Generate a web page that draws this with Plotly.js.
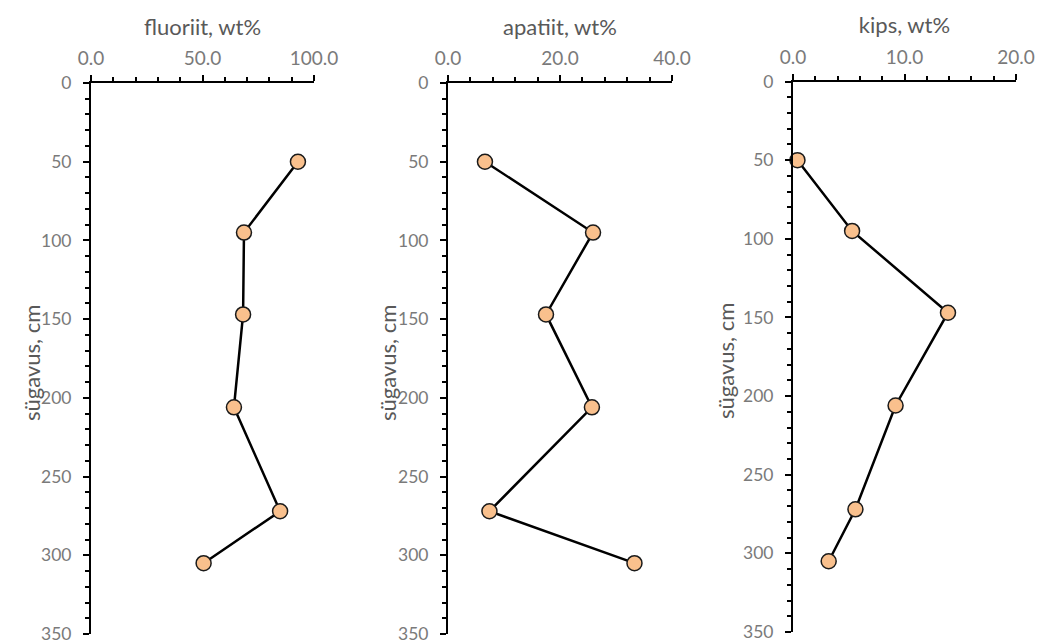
<!DOCTYPE html>
<html>
<head>
<meta charset="utf-8">
<script src="https://cdn.plot.ly/plotly-3.0.1.min.js"></script>
<style>html,body{margin:0;padding:0;background:#fff;}#chart{width:1037px;height:641px;}</style>
</head>
<body>
<div id="chart"></div>
<script>
const depth = [50, 95, 147, 206, 272, 305];
const fluoriit = [92.8, 68.6, 68.2, 64.1, 84.8, 50.5];
const apatiit = [6.6, 25.9, 17.5, 25.7, 7.4, 33.3];
const kips = [0.4, 5.3, 13.9, 9.2, 5.6, 3.2];
const panelTitles = ['fluoriit, wt%', 'apatiit, wt%', 'kips, wt%'];
const yTitle = 'sügavus, cm';
const xRanges = [[0, 100], [0, 40], [0, 20]];
const xMajor = [50, 20, 10];
const yRange = [350, 0];

const FONT = 'Lato, "Open Sans", sans-serif';
const marker = {size: 15, color: '#F9C08D', line: {color: '#1a1a1a', width: 1.5}};
const line = {color: '#000', width: 2.5};
const series = [fluoriit, apatiit, kips];

const traces = series.map((vals, i) => ({
  type: 'scatter', mode: 'lines+markers',
  x: vals, y: depth,
  xaxis: i === 0 ? 'x' : 'x' + (i + 1),
  yaxis: i === 0 ? 'y' : 'y' + (i + 1),
  line: line, marker: marker, showlegend: false, cliponaxis: false,
  hoverinfo: 'x+y'
}));

const xDomains = [[91/1037, 314/1037], [448/1037, 672/1037], [793/1037, 1016/1037]];
const yDomains = [[1 - 634/641, 1 - 83/641], [1 - 634/641, 1 - 83/641], [1 - 632/641, 1 - 81.5/641]];
const yTitleX = [31, 387, 725];
const yTitleY = [363, 363, 361];

const layout = {
  width: 1037, height: 641,
  margin: {l: 0, r: 0, t: 0, b: 0},
  paper_bgcolor: '#fff', plot_bgcolor: 'rgba(0,0,0,0)',
  font: {family: FONT, size: 18, color: '#7a7a7a'},
  showlegend: false,
  annotations: []
};

for (let i = 0; i < 3; i++) {
  const sx = i === 0 ? '' : String(i + 1);
  layout['xaxis' + sx] = {
    domain: xDomains[i], anchor: 'y' + sx, side: 'top',
    range: xRanges[i], dtick: xMajor[i], tick0: 0, tickformat: '.1f',
    showgrid: false, zeroline: false,
    showline: true, linecolor: '#000', linewidth: 2,
    ticks: 'outside', ticklen: 6, tickwidth: 2, tickcolor: '#000',
    minor: {dtick: xMajor[i] / 5, ticks: 'outside', ticklen: 4, tickwidth: 2, tickcolor: '#000', showgrid: false},
    tickfont: {family: FONT, size: 19, color: '#7a7a7a'},
    ticklabelstandoff: 2, ticklabeloverflow: 'allow',
    title: {text: panelTitles[i], font: {family: FONT, size: 22, color: '#595959'}, standoff: 5},
    fixedrange: true
  };
  layout['yaxis' + sx] = {
    domain: yDomains[i], anchor: 'x' + sx,
    range: yRange, dtick: 50, tick0: 0,
    showgrid: false, zeroline: false,
    showline: true, linecolor: '#000', linewidth: 2,
    ticks: 'outside', ticklen: 6, tickwidth: 2, tickcolor: '#000',
    minor: {dtick: 10, ticks: 'outside', ticklen: 4, tickwidth: 2, tickcolor: '#000', showgrid: false},
    tickfont: {family: FONT, size: 17.5, color: '#7a7a7a'},
    ticklabelstandoff: 8, ticklabeloverflow: 'allow',
    fixedrange: true
  };
  layout.annotations.push({
    text: yTitle, textangle: -90, showarrow: false,
    xref: 'paper', yref: 'paper',
    x: yTitleX[i] / 1037, y: 1 - yTitleY[i] / 641,
    xanchor: 'center', yanchor: 'middle',
    font: {family: FONT, size: 22, color: '#595959'}
  });
}

Plotly.newPlot('chart', traces, layout, {displayModeBar: false, staticPlot: true});
</script>
</body>
</html>
